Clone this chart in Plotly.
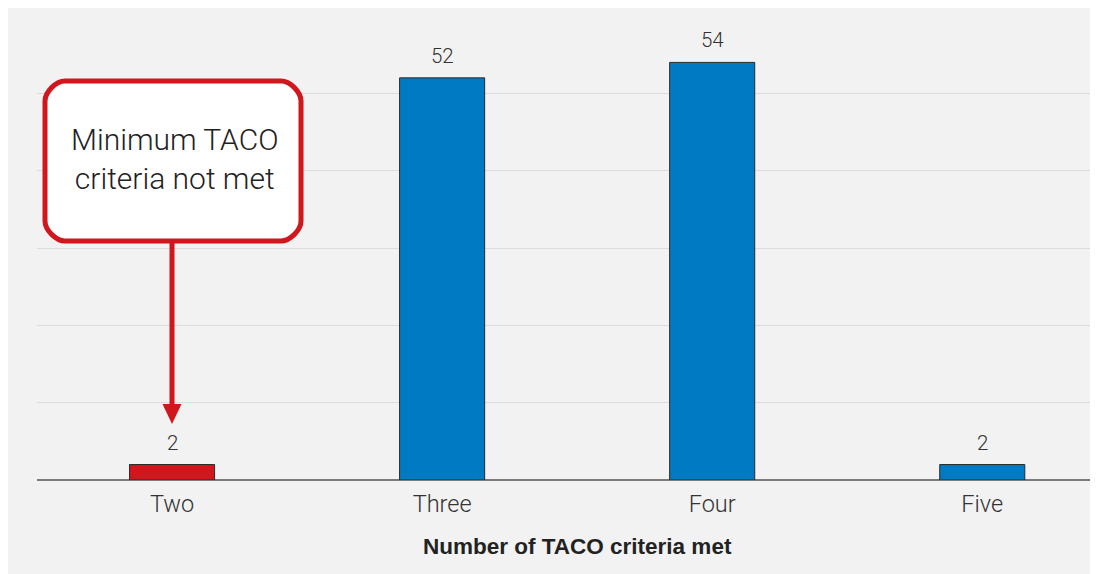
import plotly.graph_objects as go

# ---- data ----
categories = ["Two", "Three", "Four", "Five"]
counts = [2, 52, 54, 2]
bar_colors = ["#d0171e", "#007ac3", "#007ac3", "#007ac3"]
x_title = "Number of TACO criteria met"
callout_text = "Minimum TACO<br>criteria not met"

# ---- geometry helpers (page pixel -> paper); page has 8px body margin ----
W, H = 1120, 580
OFF = 8
L, R, T, B = 37 - OFF, 1093 - OFF, 16 - OFF, 480 - OFF


def px(x):
    return (x - OFF - L) / (R - L)


def py(y):
    return (B - (y - OFF)) / (B - T)


RED = "#d0171e"
FONT = "Roboto"

fig = go.Figure()
fig.add_trace(go.Bar(
    x=categories, y=counts,
    marker=dict(color=bar_colors, line=dict(color="#2b2b2b", width=1)),
    width=0.315, hoverinfo="x+y",
))

annotations = []
for c, v in zip(categories, counts):
    annotations.append(dict(
        x=c, y=v, xref="x", yref="y", text=str(v), showarrow=False,
        yanchor="bottom", yshift=8,
        font=dict(family=FONT, size=20.5, color="#333333", weight=300),
    ))

annotations.append(dict(
    x=px(577), y=py(546), xref="paper", yref="paper", text="<b>" + x_title + "</b>",
    showarrow=False, xanchor="center", yanchor="middle",
    font=dict(family="Liberation Sans", size=22.5, color="#222222"),
))
annotations.append(dict(
    x=px(174), y=py(159), xref="paper", yref="paper", text=callout_text,
    showarrow=False, xanchor="center", yanchor="middle",
    font=dict(family=FONT, size=30, color="#222222", weight=300),
))

# rounded callout box
x0, x1, y0, y1, r = 45, 301, 81, 241, 20
k = 0.45 * r


def P(x, y):
    return f"{px(x):.6f},{py(y):.6f}"


path = (
    f"M {P(x0 + r, y0)} L {P(x1 - r, y0)} "
    f"C {P(x1 - r + k, y0)} {P(x1, y0 + r - k)} {P(x1, y0 + r)} "
    f"L {P(x1, y1 - r)} "
    f"C {P(x1, y1 - r + k)} {P(x1 - r + k, y1)} {P(x1 - r, y1)} "
    f"L {P(x0 + r, y1)} "
    f"C {P(x0 + r - k, y1)} {P(x0, y1 - r + k)} {P(x0, y1 - r)} "
    f"L {P(x0, y0 + r)} "
    f"C {P(x0, y0 + r - k)} {P(x0 + r - k, y0)} {P(x0 + r, y0)} Z"
)

shapes = [
    dict(type="line", xref="paper", yref="paper",
         x0=px(172), x1=px(172), y0=py(243), y1=py(408),
         line=dict(color=RED, width=5)),
    dict(type="path", xref="paper", yref="paper",
         path=f"M {P(162.5, 404)} L {P(181.5, 404)} L {P(172, 424)} Z",
         fillcolor=RED, line=dict(width=0)),
    dict(type="path", xref="paper", yref="paper", path=path,
         fillcolor="white", line=dict(color=RED, width=5)),
]

fig.update_layout(
    width=W, height=H,
    margin=dict(l=L, r=W - R, t=T, b=H - B),
    paper_bgcolor="#f2f2f2", plot_bgcolor="#f2f2f2",
    showlegend=False,
    annotations=annotations, shapes=shapes,
    xaxis=dict(type="category", range=[-0.5, 3.41], showgrid=False,
               showline=False, ticks="outside", ticklen=3,
               tickcolor="rgba(0,0,0,0)",
               tickfont=dict(family=FONT, size=23.5, color="#333333", weight=300)),
    yaxis=dict(range=[0, 60], dtick=10, showgrid=True, gridcolor="#dcdcdc",
               gridwidth=1, zeroline=True, zerolinecolor="#7a7a7a",
               zerolinewidth=1.5, showticklabels=False, ticks=""),
)

fig.write_html(
    "out.html",
    post_script="document.documentElement.style.overflow='hidden';"
                "document.body.style.overflow='hidden';",
)
